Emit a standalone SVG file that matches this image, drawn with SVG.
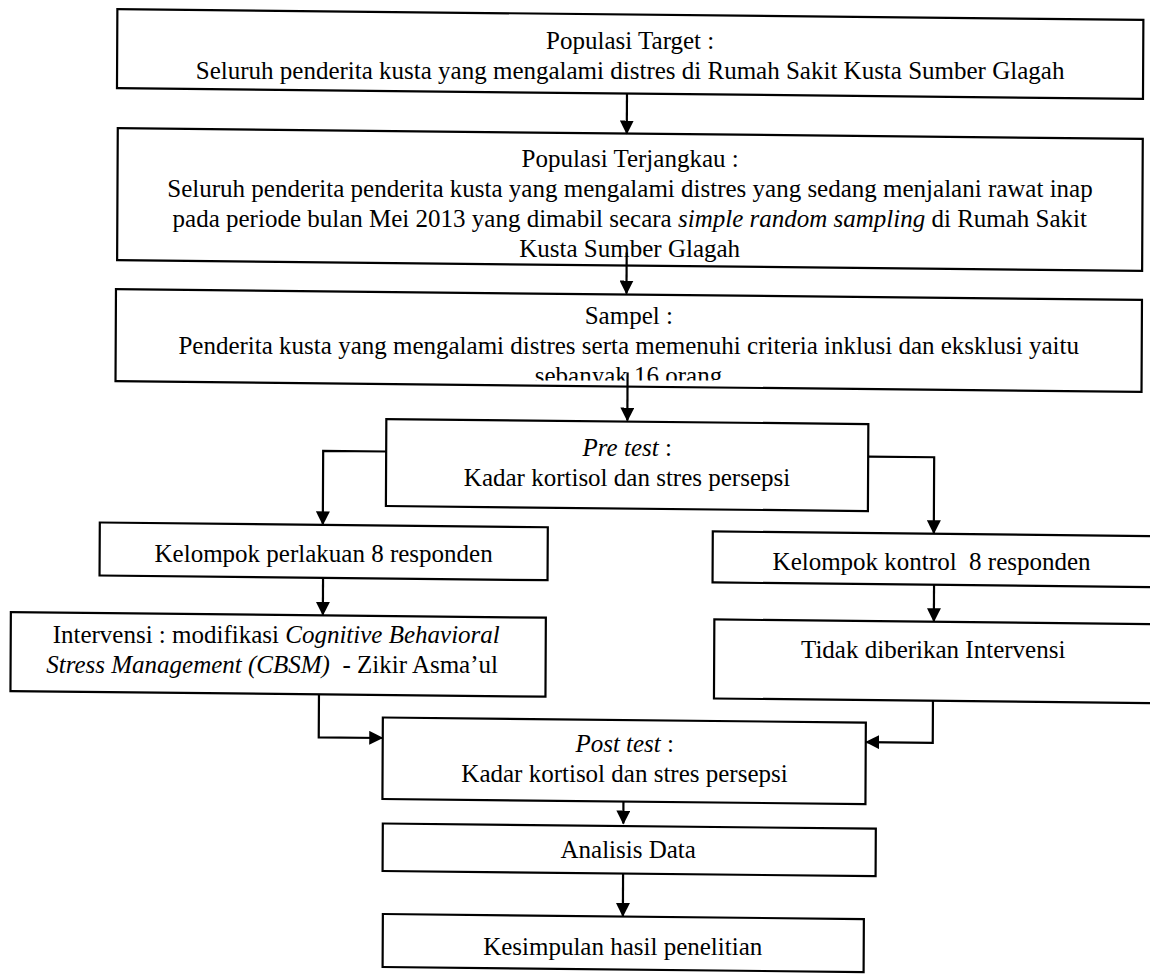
<svg xmlns="http://www.w3.org/2000/svg" width="1150" height="978" viewBox="0 0 1150 978">
<style>
.box{fill:#fff;stroke:#000;stroke-width:2.2}
.t{font-family:'Liberation Serif','Times New Roman',serif;font-size:25px;fill:#000;text-anchor:middle}
.i{font-style:italic}
.c{fill:none;stroke:#000;stroke-width:2.2}
</style>
<defs>
<marker id="ah" markerUnits="userSpaceOnUse" markerWidth="14" markerHeight="14" refX="13" refY="7" orient="auto"><path d="M0,0 L14,7 L0,14 z" fill="#000"/></marker>
<clipPath id="clip3"><rect x="100" y="290" width="1050" height="90.6"/></clipPath>
</defs>
<rect width="1150" height="978" fill="#fff"/>
<g id="n1">
<rect class="box" transform="matrix(1,0.0105,-0.005,1,2.445,-6.0375)" x="115" y="14" width="1026" height="79"/>
<text class="t" x="630.2" y="48.6">Populasi Target :</text>
<text class="t" x="630.1" y="78.6">Seluruh penderita kusta yang mengalami distres di Rumah Sakit Kusta Sumber Glagah</text>
</g>
<g id="n2">
<rect class="box" transform="matrix(1,0.0105,-0.005,1,2.445,-6.0375)" x="116" y="133" width="1025" height="132"/>
<text class="t" x="630.1" y="166.6">Populasi Terjangkau :</text>
<text class="t" x="630" y="196.6">Seluruh penderita penderita kusta yang mengalami distres yang sedang menjalani rawat inap</text>
<text class="t" x="629.8" y="226.6">pada periode bulan Mei 2013 yang dimabil secara <tspan class="i">simple random sampling</tspan> di Rumah Sakit</text>
<text class="t" x="629.7" y="256.6">Kusta Sumber Glagah</text>
</g>
<g id="n3">
<rect class="box" transform="matrix(1,0.0105,-0.005,1,2.445,-6.0375)" x="115" y="294" width="1026" height="92"/>
<text class="t" x="628.8" y="323.6">Sampel :</text>
<text class="t" x="628.7" y="353.6">Penderita kusta yang mengalami distres serta memenuhi criteria inklusi dan eksklusi yaitu</text>
<text class="t" x="628.5" y="383.6" clip-path="url(#clip3)">sebanyak 16 orang</text>
</g>
<g id="n4">
<rect class="box" transform="matrix(1,0.0105,-0.005,1,2.445,-6.0375)" x="386" y="421" width="482" height="87"/>
<text class="t" x="627.2" y="455.5"><tspan class="i">Pre test</tspan> :</text>
<text class="t" x="627" y="485.5">Kadar kortisol dan stres persepsi</text>
</g>
<g id="n5">
<rect class="box" transform="matrix(1,0.0105,-0.005,1,2.445,-6.0375)" x="100" y="527.5" width="448" height="53"/>
<text class="t" x="323.6" y="562.4">Kelompok perlakuan 8 responden</text>
</g>
<g id="n6">
<rect class="box" transform="matrix(1,0.0105,-0.005,1,2.445,-6.0375)" x="713" y="530" width="470" height="51"/>
<text class="t" x="931.6" y="569.7" xml:space="preserve">Kelompok kontrol  8 responden</text>
</g>
<g id="n7">
<rect class="box" transform="matrix(1,0.0105,-0.005,1,2.445,-6.0375)" x="11.5" y="618" width="535" height="79"/>
<text class="t" x="276.2" y="643">Intervensi : modifikasi <tspan class="i">Cognitive Behavioral</tspan></text>
<text class="t" x="272.1" y="673" xml:space="preserve"><tspan class="i">Stress Management (CBSM)</tspan>  - Zikir Asma’ul</text>
</g>
<g id="n8">
<rect class="box" transform="matrix(1,0.0105,-0.005,1,2.445,-6.0375)" x="715" y="618" width="470" height="79"/>
<text class="t" x="933.2" y="657.8">Tidak diberikan Intervensi</text>
</g>
<g id="n9">
<rect class="box" transform="matrix(1,0.0105,-0.005,1,2.445,-6.0375)" x="384" y="719.5" width="483" height="81.5"/>
<text class="t" x="624.7" y="751.5"><tspan class="i">Post test</tspan> :</text>
<text class="t" x="624.5" y="781.5">Kadar kortisol dan stres persepsi</text>
</g>
<g id="n10">
<rect class="box" transform="matrix(1,0.0105,-0.005,1,2.445,-6.0375)" x="384.5" y="825.5" width="493" height="47.5"/>
<text class="t" x="628.2" y="858.1">Analisis Data</text>
</g>
<g id="n11">
<rect class="box" transform="matrix(1,0.0105,-0.005,1,2.445,-6.0375)" x="385" y="916" width="481" height="53"/>
<text class="t" x="622.7" y="955">Kesimpulan hasil penelitian</text>
</g>
<g id="connectors" transform="matrix(1,0.0105,-0.005,1,2.445,-6.0375)">
<path class="c" marker-end="url(#ah)" d="M625 93 V133"/>
<path class="c" marker-end="url(#ah)" d="M625.5 252 V293"/>
<path class="c" marker-end="url(#ah)" d="M627 372 V420"/>
<path class="c" marker-end="url(#ah)" d="M386 453.5 H323 V527"/>
<path class="c" marker-end="url(#ah)" d="M868 453.5 H934 V529.5"/>
<path class="c" marker-end="url(#ah)" d="M323.5 580.5 V617.5"/>
<path class="c" marker-end="url(#ah)" d="M934.5 581 V617.5"/>
<path class="c" marker-end="url(#ah)" d="M320 697 V740 H383.5"/>
<path class="c" marker-end="url(#ah)" d="M934 697 V739 H867.5"/>
<path class="c" marker-end="url(#ah)" d="M625 801 V823"/>
<path class="c" marker-end="url(#ah)" d="M625 873 V915.5"/>
</g>
</svg>
